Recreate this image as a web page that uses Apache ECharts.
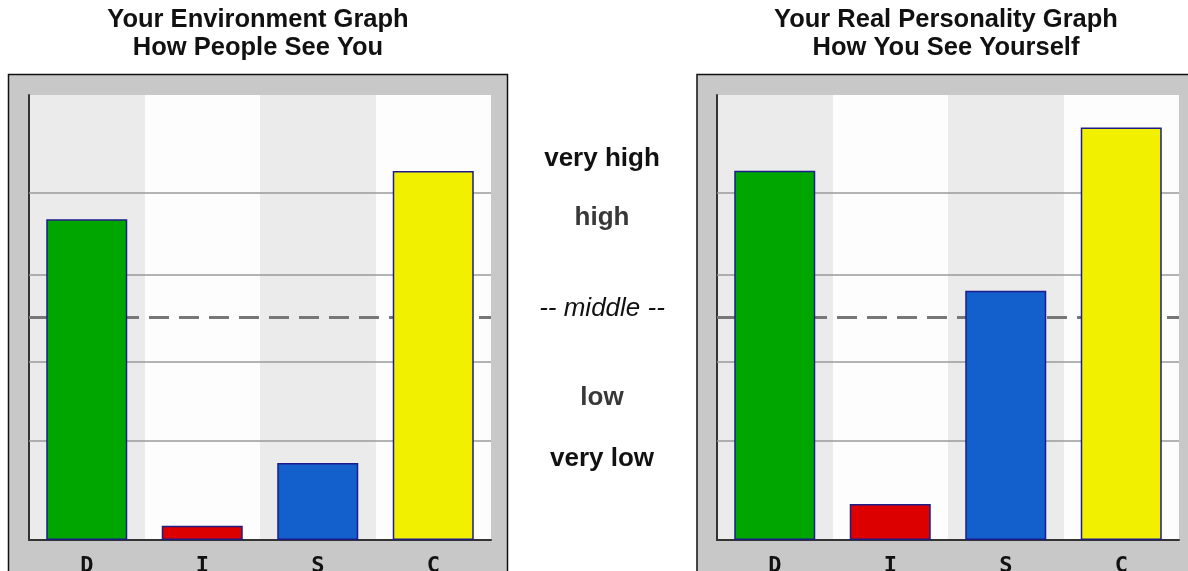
<!DOCTYPE html>
<html>
<head>
<meta charset="utf-8">
<script src="https://cdn.jsdelivr.net/npm/echarts@6/dist/echarts.min.js"></script>
<style>
html,body{margin:0;padding:0;background:#fff;}
#chart{width:1188px;height:571px;}
</style>
</head>
<body>
<div id="chart"></div>
<script>
// ---- data ----
var categories = ['D', 'I', 'S', 'C'];
var environmentValues = [72.1, 3.2, 17.3, 82.9];   // How People See You
var personalityValues = [83.0, 8.1, 56.0, 92.7];   // How You See Yourself
var gridLineValues = [22.2, 40, 59.5, 78];
var middleValue = 50;
var levelLabels = ['very high', 'high', '-- middle --', 'low', 'very low'];
var titles = [
  'Your Environment Graph\nHow People See You',
  'Your Real Personality Graph\nHow You See Yourself'
];

// ---- styles ----
var barColors = ['#00a600', '#dd0000', '#135fcc', '#f0f000'];
var FONT = '"Liberation Sans", Arial, sans-serif';

function barData(vals) {
  return vals.map(function (v, i) {
    return { value: v, itemStyle: { color: barColors[i] } };
  });
}

function gridMarkLines() {
  var d = gridLineValues.map(function (v) {
    return { yAxis: v, lineStyle: { color: '#9a9a9a', width: 1.6, type: 'solid' } };
  });
  d.push({ yAxis: middleValue, lineStyle: { color: '#777', width: 3, type: [20, 10] } });
  return d;
}

function xAxisOpt(gi) {
  return {
    type: 'category', gridIndex: gi, data: categories,
    boundaryGap: true,
    axisLine: { show: true, lineStyle: { color: '#333', width: 2 } },
    axisTick: { show: false },
    axisLabel: {
      show: true, margin: 15, color: '#111',
      fontFamily: '"DejaVu Sans Mono", monospace',
      fontWeight: 'bold', fontSize: 22
    },
    splitLine: { show: false },
    splitArea: { show: true, areaStyle: { color: ['#ebebeb', '#fdfdfd'] } }
  };
}

function yAxisOpt(gi) {
  return {
    type: 'value', gridIndex: gi, min: 0, max: 100,
    axisLine: { show: true, onZero: false, lineStyle: { color: '#333', width: 2 } },
    axisTick: { show: false },
    axisLabel: { show: false },
    splitLine: { show: false }
  };
}

function barSeries(gi, vals) {
  return {
    type: 'bar', xAxisIndex: gi, yAxisIndex: gi, z: 3,
    barWidth: 81,
    data: barData(vals),
    itemStyle: { borderColor: '#1c1c8a', borderWidth: 1.5 },
    emphasis: { disabled: true },
    animation: false
  };
}

function lineSeries(gi) {
  return {
    type: 'line', xAxisIndex: gi, yAxisIndex: gi, data: [], silent: true,
    markLine: {
      silent: true, symbol: 'none', z: 1, animation: false,
      label: { show: false },
      data: gridMarkLines()
    }
  };
}

var levelY = [159, 218, 309, 398, 459];
var levelStyle = [
  { color: '#111', weight: 'bold', style: 'normal' },
  { color: '#383838', weight: 'bold', style: 'normal' },
  { color: '#111', weight: 'normal', style: 'italic' },
  { color: '#383838', weight: 'bold', style: 'normal' },
  { color: '#111', weight: 'bold', style: 'normal' }
];

var graphics = [
  { type: 'rect', z: -5, shape: { x: 8.5, y: 74.5, width: 499, height: 540 },
    style: { fill: '#c8c8c8', stroke: '#111', lineWidth: 1.5 } },
  { type: 'rect', z: -5, shape: { x: 697, y: 74.5, width: 520, height: 540 },
    style: { fill: '#c8c8c8', stroke: '#111', lineWidth: 1.5 } }
];
levelLabels.forEach(function (t, i) {
  graphics.push({
    type: 'text', x: 602, y: levelY[i],
    style: {
      text: t, fill: levelStyle[i].color, fontSize: 26,
      fontFamily: FONT, fontWeight: levelStyle[i].weight, fontStyle: levelStyle[i].style,
      textAlign: 'center', textVerticalAlign: 'middle'
    }
  });
});

var titleStyle = { fontSize: 25.5, fontWeight: 'bold', color: '#111', fontFamily: FONT, lineHeight: 28 };
var chart = echarts.init(document.getElementById('chart'), null, { renderer: 'canvas' });
chart.setOption({
  animation: false,
  backgroundColor: '#fff',
  title: [
    { text: titles[0], left: 258, top: 6, padding: 0, textAlign: 'center', textStyle: titleStyle },
    { text: titles[1], left: 946, top: 6, padding: 0, textAlign: 'center', textStyle: titleStyle }
  ],
  grid: [
    { left: 29, right: 697, top: 95, bottom: 31, containLabel: false, outerBoundsMode: 'none' },
    { left: 717, right: 9, top: 95, bottom: 31, containLabel: false, outerBoundsMode: 'none' }
  ],
  xAxis: [xAxisOpt(0), xAxisOpt(1)],
  yAxis: [yAxisOpt(0), yAxisOpt(1)],
  series: [
    lineSeries(0), barSeries(0, environmentValues),
    lineSeries(1), barSeries(1, personalityValues)
  ],
  graphic: graphics
});
</script>
</body>
</html>
